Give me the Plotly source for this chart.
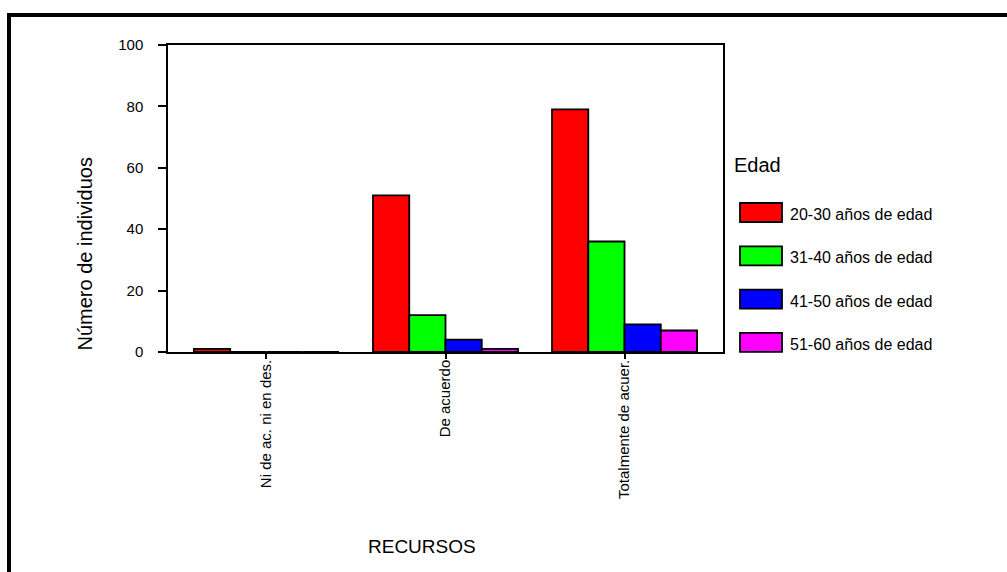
import plotly.graph_objects as go

# ---- data ----
categories = ["Ni de ac. ni en des.", "De acuerdo", "Totalmente de acuer."]
series_names = ["20-30 años de edad", "31-40 años de edad", "41-50 años de edad", "51-60 años de edad"]
v20_30 = [1, 51, 79]
v31_40 = [0, 12, 36]
v41_50 = [0, 4, 9]
v51_60 = [0, 1, 7]
y_ticks = [0, 20, 40, 60, 80, 100]

series_values = [v20_30, v31_40, v41_50, v51_60]
colors = ["#FF0000", "#00FF00", "#0000FF", "#FF00FF"]

W, H = 1007, 572
L, R, T, B = 168, 723, 45, 352  # plot area in pixels
FONT = "Liberation Sans, Arial, sans-serif"


def px(x):
    return (x - L) / (R - L)


def py(y):
    return (B - y) / (B - T)


fig = go.Figure()
for name, vals, col in zip(series_names, series_values, colors):
    fig.add_trace(go.Bar(
        x=categories, y=vals, name=name,
        marker=dict(color=col, line=dict(color="black", width=1.8)),
        showlegend=False,
    ))

shapes = []
annotations = []

# outer frame
shapes.append(dict(type="rect", xref="paper", yref="paper",
                   x0=px(9), x1=px(1030), y0=py(600), y1=py(15),
                   line=dict(color="black", width=4), fillcolor="rgba(0,0,0,0)", layer="above"))

# custom legend
annotations.append(dict(text="Edad", xref="paper", yref="paper", x=px(732), y=py(165),
                        xanchor="left", yanchor="middle", showarrow=False,
                        font=dict(size=20, color="black", family=FONT)))
for i, (name, col) in enumerate(zip(series_names, colors)):
    cy = 212.5 + i * 43.3
    shapes.append(dict(type="rect", xref="paper", yref="paper",
                       x0=px(740), x1=px(782), y0=py(cy + 9.5), y1=py(cy - 9.5),
                       fillcolor=col, line=dict(color="black", width=1.8)))
    annotations.append(dict(text=name, xref="paper", yref="paper", x=px(788), y=py(cy + 2),
                            xanchor="left", yanchor="middle", showarrow=False,
                            font=dict(size=16, color="black", family=FONT)))

# axis titles
annotations.append(dict(text="Número de individuos", xref="paper", yref="paper",
                        x=px(84), y=py(254.5), textangle=-90, showarrow=False,
                        xanchor="center", yanchor="middle",
                        font=dict(size=20, color="black", family=FONT)))
annotations.append(dict(text="RECURSOS", xref="paper", yref="paper",
                        x=px(421.5), y=py(546), showarrow=False,
                        xanchor="center", yanchor="middle",
                        font=dict(size=19, color="black", family=FONT)))

fig.update_layout(
    width=W, height=H,
    margin=dict(l=L, r=W - R, t=T, b=H - B, pad=0),
    paper_bgcolor="white", plot_bgcolor="white",
    barmode="group", bargap=0.19, bargroupgap=0,
    font=dict(family=FONT, color="black", size=15),
    shapes=shapes, annotations=annotations,
    showlegend=False,
)
fig.update_xaxes(
    type="category", range=[-0.55, 2.55],
    showline=True, linecolor="black", linewidth=1.5, mirror=True,
    ticks="outside", ticklen=5, tickcolor="black", tickwidth=1.5,
    tickangle=-90, tickfont=dict(size=15, color="black", family=FONT),
    ticklabelstandoff=-5,
    showgrid=False, zeroline=False,
)
fig.update_yaxes(
    range=[0, 100], tickvals=y_ticks,
    showline=True, linecolor="black", linewidth=1.5, mirror=True,
    ticks="outside", ticklen=8, tickcolor="black", tickwidth=1.5,
    tickfont=dict(size=15, color="black", family=FONT),
    ticklabelstandoff=12,
    showgrid=False, zeroline=False,
)

fig.write_html("out.html", config={"displayModeBar": False},
               post_script="document.body.style.margin='0';")
